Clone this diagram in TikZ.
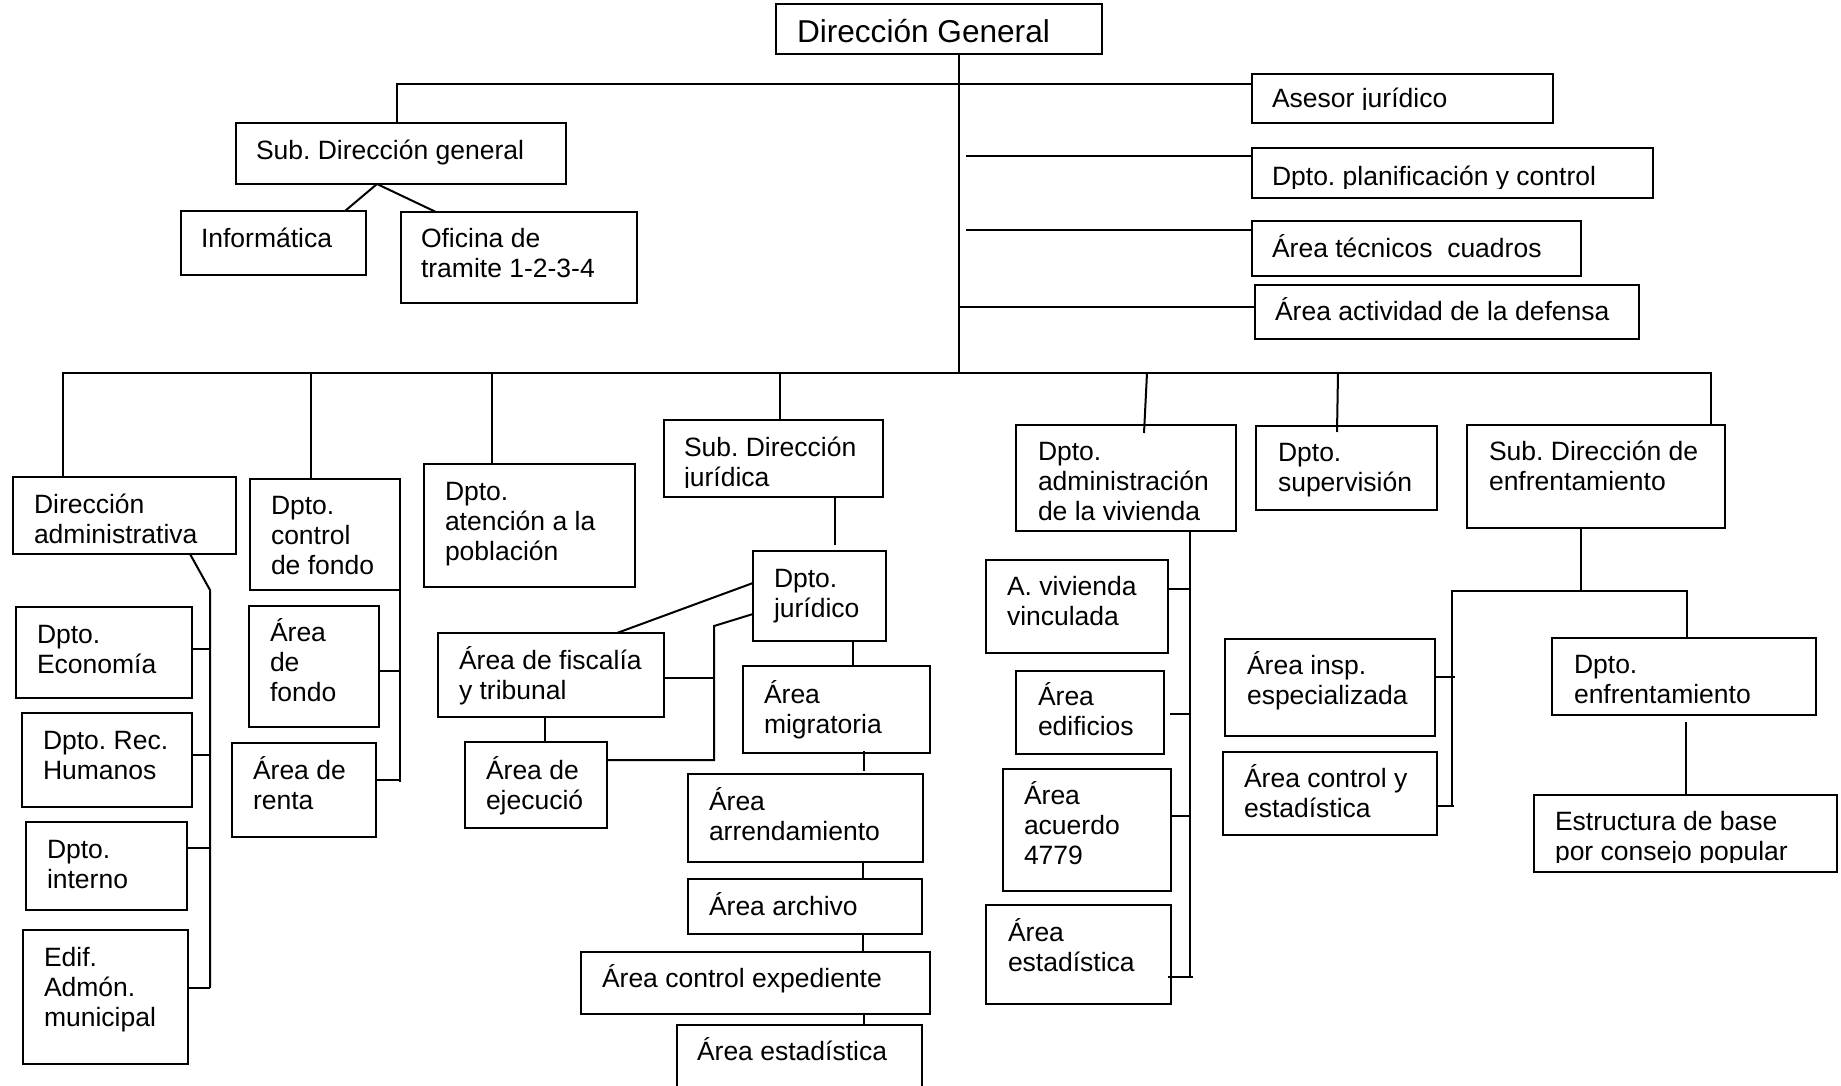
\documentclass[tikz,border=0pt]{standalone}
\usepackage{fontspec}
\setmainfont{Liberation Sans}
\frenchspacing
\tikzset{
  bx/.style={draw, line width=1pt, rectangle, inner sep=0pt, outer sep=0pt},
  lbl/.style={inner sep=0pt, outer sep=0pt, anchor=base west, font=\fontsize{13.25}{15}\selectfont},
  big/.style={inner sep=0pt, outer sep=0pt, anchor=base west, font=\fontsize{15.8}{18}\selectfont},
  ln/.style={line width=1pt}
}
\newcommand\obox[5]{\node[bx, minimum width={(#4-#2)*0.5pt}, minimum height={(#5-#3)*0.5pt}] (#1) at ({(#2+#4)/2},{(#3+#5)/2}) {};}
\newcommand\otext[4]{\node[lbl] (#1-t) at (#2,#3) {\begin{tabular}[t]{@{}l@{}}#4\end{tabular}};}
\begin{document}
\begin{tikzpicture}[x=0.5pt,y=-0.5pt]
\useasboundingbox[fill=white] (0,0) rectangle (1841,1086);
% ---------- boxes ----------
\obox{dg}{776}{4}{1102}{54}
\node[big] (dg-t) at (797,43) {Dirección General};
\obox{sdg}{236}{123}{566}{184}\otext{sdg}{256}{160}{Sub. Dirección general}
\obox{inf}{181}{211}{366}{275}\otext{inf}{201}{247}{Informática}
\obox{ofi}{401}{212}{637}{303}\otext{ofi}{421}{247}{Oficina de\\tramite 1-2-3-4}
\obox{ase}{1252}{74}{1553}{123}
\begin{scope}\clip (1252,74) rectangle (1553,110);\otext{ase}{1272}{108}{Asesor jurídico}\end{scope}
\obox{pla}{1252}{148}{1653}{198}
\begin{scope}\clip (1252,148) rectangle (1653,188);\otext{pla}{1272}{185}{Dpto. planificación y control}\end{scope}
\obox{tec}{1252}{221}{1581}{276}\otext{tec}{1272}{257}{Área técnicos\ \ cuadros}
\obox{act}{1255}{285}{1639}{339}\otext{act}{1275}{320}{Área actividad de la defensa}
% left group
\obox{dad}{13}{477}{236}{554}\otext{dad}{34}{513}{Dirección\\administrativa}
\obox{eco}{16}{607}{192}{698}\otext{eco}{37}{643}{Dpto.\\Economía}
\obox{rrh}{22}{713}{192}{807}\otext{rrh}{43}{749}{Dpto. Rec.\\Humanos}
\obox{int}{26}{822}{187}{910}\otext{int}{47}{858}{Dpto.\\interno}
\obox{edi}{23}{930}{188}{1064}\otext{edi}{44}{966}{Edif.\\Admón.\\municipal}
\obox{cfo}{250}{479}{400}{590}\otext{cfo}{271}{514}{Dpto.\\control\\de fondo}
\obox{afo}{249}{606}{379}{727}\otext{afo}{270}{641}{Área\\de\\fondo}
\obox{are}{232}{743}{376}{837}\otext{are}{253}{779}{Área de\\renta}
\obox{ate}{424}{464}{635}{587}\otext{ate}{445}{500}{Dpto.\\atención a la\\población}
\obox{fis}{438}{633}{664}{717}\otext{fis}{459}{669}{Área de fiscalía\\y tribunal}
\obox{eje}{465}{742}{607}{828}\otext{eje}{486}{779}{Área de\\ejecució}
\obox{sdj}{664}{420}{883}{497}
\begin{scope}\clip (664,420) rectangle (883,487);\otext{sdj}{684}{456}{Sub. Dirección\\jurídica}\end{scope}
\obox{djur}{753}{551}{886}{641}\otext{djur}{774}{587}{Dpto.\\jurídico}
\obox{mig}{743}{666}{930}{753}\otext{mig}{764}{703}{Área\\migratoria}
\obox{arr}{688}{774}{923}{862}\otext{arr}{709}{810}{Área\\arrendamiento}
\obox{arc}{688}{879}{922}{934}\otext{arc}{709}{915}{Área archivo}
\obox{cex}{581}{952}{930}{1014}\otext{cex}{602}{987}{Área control expediente}
\obox{est}{677}{1025}{922}{1100}\otext{est}{697}{1060}{Área estadística}
% vivienda group
\obox{dav}{1016}{425}{1236}{531}\otext{dav}{1038}{460}{Dpto.\\administración\\de la vivienda}
\obox{avv}{986}{560}{1168}{653}\otext{avv}{1007}{595}{A. vivienda\\vinculada}
\obox{aed}{1016}{671}{1164}{754}\otext{aed}{1038}{705}{Área\\edificios}
\obox{aac}{1003}{769}{1171}{891}\otext{aac}{1024}{804}{Área\\acuerdo\\4779}
\obox{aes}{986}{905}{1171}{1004}\otext{aes}{1008}{941}{Área\\estadística}
% right group
\obox{sup}{1256}{426}{1437}{510}\otext{sup}{1278}{461}{Dpto.\\supervisión}
\obox{sde}{1467}{425}{1725}{528}\otext{sde}{1489}{460}{Sub. Dirección de\\enfrentamiento}
\obox{ains}{1225}{639}{1435}{736}\otext{ains}{1247}{674}{Área insp.\\especializada}
\obox{acy}{1223}{752}{1437}{835}\otext{acy}{1244}{787}{Área control y\\estadística}
\obox{denf}{1552}{638}{1816}{715}\otext{denf}{1574}{673}{Dpto.\\enfrentamiento}
\obox{ebp}{1534}{795}{1837}{872}
\begin{scope}\clip (1534,795) rectangle (1837,862);\otext{ebp}{1555}{830}{Estructura de base\\por consejo popular}\end{scope}
% ---------- connectors ----------
\draw[ln] (959,0 |- dg.south) -- (959,373);
\draw[ln] (397,0 |- sdg.north) |- (ase.west |- 0,84);
\draw[ln] (966,156) -- (pla.west |- 0,156);
\draw[ln] (966,230) -- (tec.west |- 0,230);
\draw[ln] (959,307) -- (act.west |- 0,307);
\draw[ln] (345,0 |- inf.north) -- (377,0 |- sdg.south) -- (436,0 |- ofi.north);
% main bus
\draw[ln] (63,0 |- dad.north) |- (1711,373) -- (1711,0 |- sde.north);
\draw[ln] (311,373) -- (311,0 |- cfo.north);
\draw[ln] (492,373) -- (492,0 |- ate.north);
\draw[ln] (780,373) -- (780,0 |- sdj.north);
\draw[ln] (1147,373) -- (1144,433);
\draw[ln] (1338,373) -- (1337,432);
% direccion administrativa
\draw[ln] (190,0 |- dad.south) -- (210,590) -- (210,988);
\draw[ln] (eco.east |- 0,649) -- (210,649);
\draw[ln] (rrh.east |- 0,755) -- (210,755);
\draw[ln] (int.east |- 0,848) -- (210,848);
\draw[ln] (edi.east |- 0,988) -- (210,988);
% control de fondo
\draw[ln] (cfo.south east) -- (400,782);
\draw[ln] (afo.east |- 0,671) -- (400,671);
\draw[ln] (are.east |- 0,780) -- (400,780);
% juridica
\draw[ln] (835,0 |- sdj.south) -- (835,545);
\draw[ln] (545,0 |- fis.south) -- (545,0 |- eje.north);
\draw[ln] (djur.west |- 0,583) -- (617,0 |- fis.north);
\draw[ln] (djur.west |- 0,614) -- (714,626) -- (714,760) -- (eje.east |- 0,760);
\draw[ln] (fis.east |- 0,678) -- (714,678);
\draw[ln] (853,0 |- djur.south) -- (853,0 |- mig.north);
\draw[ln] (864,751) -- (864,771);
\draw[ln] (863,0 |- arr.south) -- (863,0 |- arc.north);
\draw[ln] (863,0 |- arc.south) -- (863,0 |- cex.north);
\draw[ln] (864,0 |- cex.south) -- (864,0 |- est.north);
% vivienda
\draw[ln] (1190,0 |- dav.south) -- (1190,977);
\draw[ln] (avv.east |- 0,589) -- (1190,589);
\draw[ln] (1170,714) -- (1190,714);
\draw[ln] (aac.east |- 0,816) -- (1190,816);
\draw[ln] (1168,977) -- (1193,977);
% enfrentamiento
\draw[ln] (1581,0 |- sde.south) -- (1581,591);
\draw[ln] (1452,806) -- (1452,591) -- (1687,591) -- (1687,0 |- denf.north);
\draw[ln] (ains.east |- 0,677) -- (1455,677);
\draw[ln] (acy.east |- 0,806) -- (1454,806);
\draw[ln] (1686,722) -- (1686,0 |- ebp.north);
\end{tikzpicture}
\end{document}
